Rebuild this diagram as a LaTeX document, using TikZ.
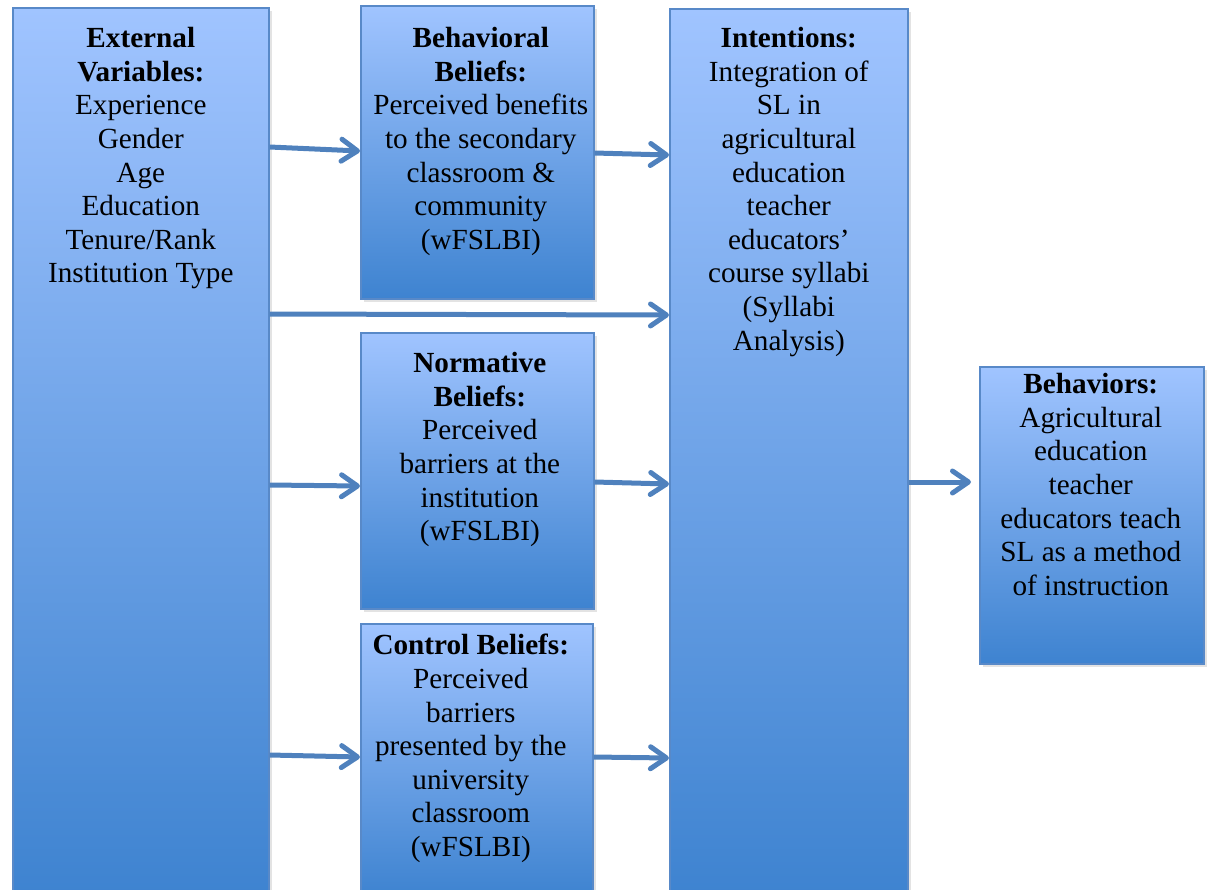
\documentclass[tikz,border=0pt]{standalone}
\usepackage{fontspec}
\setmainfont{Liberation Serif}
\usetikzlibrary{positioning,arrows.meta,shadows}
\definecolor{boxtop}{RGB}{160,196,255}
\definecolor{boxbot}{RGB}{62,131,208}
\definecolor{boxline}{RGB}{88,137,200}
\definecolor{arrowblue}{RGB}{79,129,189}

\begin{document}
\begin{tikzpicture}[x=0.5pt, y=-0.5pt,
    varbox/.style={rectangle, anchor=north west, draw=boxline, line width=0.8pt, top color=boxtop, bottom color=boxbot, inner sep=0pt,
                   drop shadow={shadow xshift=1.5pt, shadow yshift=-1.5pt, opacity=0.18, fill=black!60}},
    boxtext/.style={align=center, inner sep=0pt, font=\fontsize{14.6}{16.8}\selectfont},
    flow/.style={draw=arrowblue, line width=2.5pt, -{Straight Barb[length=8pt, width=11pt, line cap=round, line join=round]}}
   ]
   \useasboundingbox (0,0) rectangle (1207,890);

   % boxes
   \node[varbox, minimum width=128pt, minimum height=444pt]   (ext) at (12,7)    {};
   \node[varbox, minimum width=116.5pt, minimum height=146.5pt] (beh) at (360,5)  {};
   \node[varbox, minimum width=116.5pt, minimum height=138pt] (nor) at (360,332)  {};
   \node[varbox, minimum width=116pt, minimum height=136pt]   (con) at (360,623)  {};
   \node[varbox, minimum width=119pt, minimum height=443.5pt] (int) at (669,8)    {};
   \node[varbox, minimum width=112pt, minimum height=148.5pt] (bhv) at (979,366)  {};

   % texts
   \node[boxtext] (extT) [below=10pt of ext.north]
     {\textbf{External}\\\textbf{Variables:}\\Experience\\Gender\\Age\\Education\\Tenure/Rank\\Institution Type};
   \node[boxtext] (behT) [below=11pt of beh.north, xshift=1.75pt]
     {\textbf{Behavioral}\\\textbf{Beliefs:}\\Perceived benefits\\to the secondary\\classroom \&\\community\\(wFSLBI)};
   \node[boxtext] (norT) [below=10pt of nor.north, xshift=1.25pt]
     {\textbf{Normative}\\\textbf{Beliefs:}\\Perceived\\barriers at the\\institution\\(wFSLBI)};
   \node[boxtext] (conT) [below=5.5pt of con.north, xshift=-3pt]
     {\textbf{Control Beliefs:}\\Perceived\\barriers\\presented by the\\university\\classroom\\(wFSLBI)};
   \node[boxtext] (intT) [below=9.5pt of int.north]
     {\textbf{Intentions:}\\Integration of\\SL in\\agricultural\\education\\teacher\\educators’\\course syllabi\\(Syllabi\\Analysis)};
   \node[boxtext] (bhvT) [below=3.5pt of bhv.north, xshift=-0.5pt]
     {\textbf{Behaviors:}\\Agricultural\\education\\teacher\\educators teach\\SL as a method\\of instruction};

   % arrows
   \draw[flow] (ext.east |- 0,147) -- (beh.west |- 0,151);
   \draw[flow] (beh.east |- 0,153) -- (int.west |- 0,155);
   \draw[flow] (ext.east |- 0,314) -- (int.west |- 0,315);
   \draw[flow] (ext.east |- 0,485) -- (nor.west |- 0,486);
   \draw[flow] (nor.east |- 0,482) -- (int.west |- 0,484);
   \draw[flow] (ext.east |- 0,755) -- (con.west |- 0,757);
   \draw[flow] (con.east |- 0,757) -- (int.west |- 0,758);
   \draw[flow, shorten >=4pt] (int.east |- 0,482) -- (bhv.west |- 0,482);
\end{tikzpicture}
\end{document}
